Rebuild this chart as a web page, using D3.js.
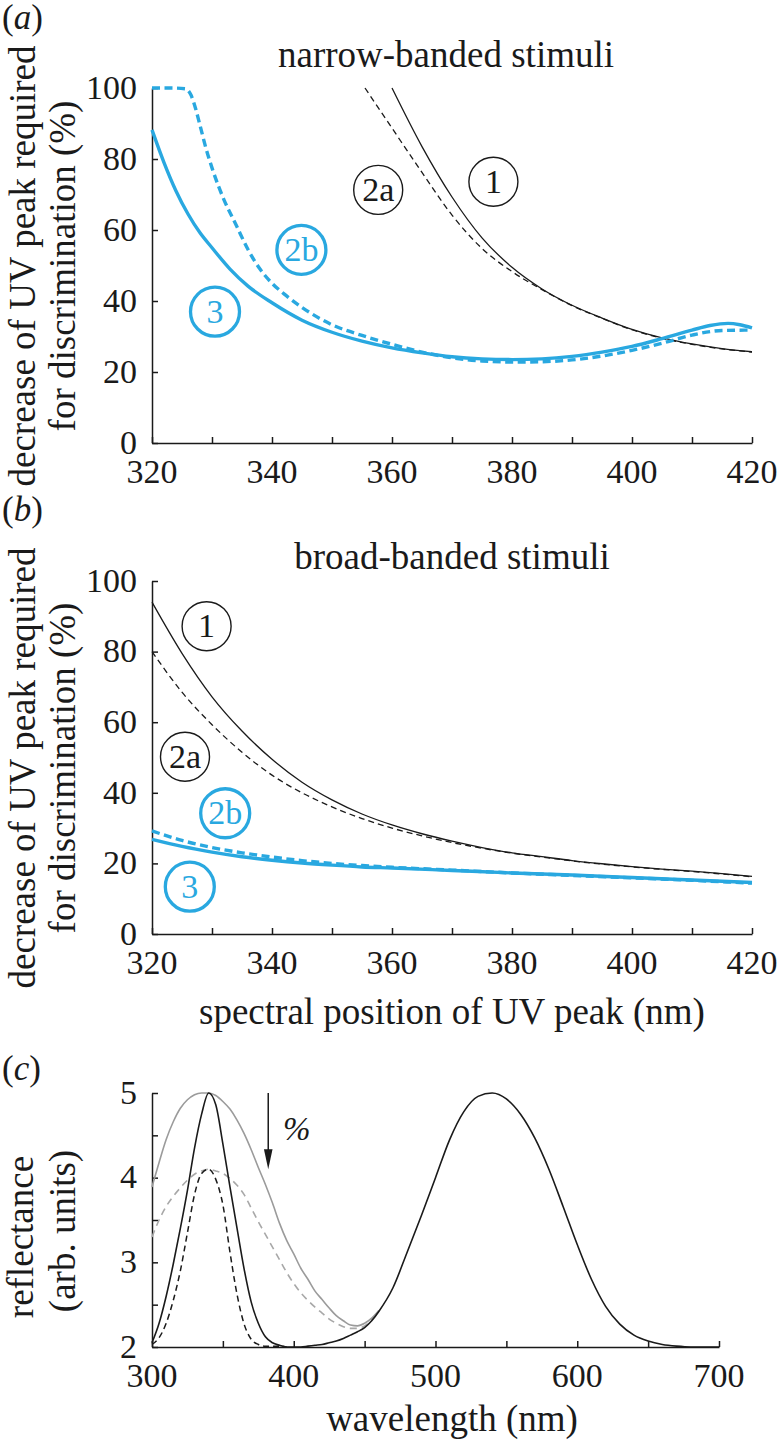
<!DOCTYPE html>
<html><head><meta charset="utf-8">
<script src="https://cdn.jsdelivr.net/npm/d3@7"></script>
</head><body style="margin:0;background:#fff">
<div id="wrap" style="position:relative;width:782px;height:1446px;overflow:hidden">
<svg id="fig" width="782" height="1446" style="position:absolute;left:0;top:0"></svg>
</div>
<script>
// ---------------- DATA ----------------
// panel (a): narrow-banded stimuli
const nmA1  = [360,365,370,375,380,385,390,395,400,405,410,415,420];
const valA1 = [100,83.5,69.3,57.8,49.5,43.4,38.8,35.2,32.0,29.6,27.9,26.6,25.7];
const nmA2a  = [355.5,360,365,370,375,380,385,390,395,400,405,410,415,420];
const valA2a = [100,88.7,76.2,64.2,54.8,48.3,43.2,38.7,35.1,31.9,29.5,27.8,26.5,25.6];
const nmA3  = [320,322,324,326,328,330,333,336,340,345,350,355,360,365,370,375,380,385,390,395,400,405,410,413,416,418,420];
const valA3 = [88.2,79,71,64.5,59.2,55,49,44.2,39.5,34.6,31.2,28.7,26.8,25.4,24.3,23.7,23.5,23.7,24.4,25.6,27.2,29.4,31.8,33.1,33.7,33.3,32.4];
const nmA2b  = [320,323,325.5,326.5,327.3,328,329,330,332,334,336,338,340,342,345,350,355,360,365,370,375,380,385,390,395,400,405,410,415,420];
const valA2b = [100,100,99.8,98,94,89.5,83,77.5,68.5,61.5,54.5,49,45,42,38.2,33.3,30.3,27.8,25.6,24,23.1,22.8,22.9,23.4,24.5,26.1,28.1,30.4,31.7,31.8];

// panel (b): broad-banded stimuli
const nmB   = [320,325,330,335,340,345,350,355,360,365,370,375,380,385,390,395,400,405,410,415,420];
const valB1  = [94,79.5,67.2,57.5,49.5,43,38,34,30.9,28.4,26.3,24.5,23,21.9,20.8,19.9,19.1,18.4,17.8,17.1,16.3];
const valB2a = [80,68.5,59.3,51.5,45,40,36,32.7,30,27.8,25.9,24.3,22.9,21.8,20.7,19.8,19,18.3,17.7,17,16.2];
const nmB3  = [320,325,330,335,340,345,350,355,360,370,380,390,400,410,420];
const valB3  = [26.8,24.8,23.2,21.9,20.9,20.1,19.5,19,18.7,18,17.3,16.7,16,15.3,14.6];
const valB2b = [29.2,26.5,24.5,23,21.8,20.8,20,19.4,18.9,18.1,17.3,16.6,15.9,15.2,14.4];

// panel (c): reflectance spectra
const wlC = [300,305,310,315,320,325,330,335,340,345,350,355,360,365,370,375,380,385,390,395,400,405,410,415,420,425,430,435,440,445,450,455,460,
             470,480,490,500,510,520,530,540,550,560,570,580,590,600,610,620,630,640,650,660,670,680,690,700];
const reflNarrow = [2.05,2.28,2.60,2.98,3.40,3.85,4.35,4.75,5.00,4.86,4.40,3.89,3.40,2.92,2.53,2.28,2.12,2.05,2.02,2.00,2.00,2.00,2.01,2.02,2.03,2.05,2.07,2.10,2.14,2.18,2.23,2.31,2.42,
             2.70,3.12,3.55,4.00,4.45,4.78,4.96,5.00,4.93,4.75,4.47,4.10,3.66,3.21,2.80,2.48,2.27,2.14,2.07,2.03,2.01,2.00,2.00,2.00];
const wlUV = [300,305,310,315,320,325,330,335,340,345,350,355,360,365,370,375,380,385,390,395,400,405,410,415,420,425,430,435,440,445,450,455,460];
const reflBroad = [3.89,4.18,4.45,4.66,4.82,4.92,4.98,5.00,5.00,4.97,4.90,4.81,4.68,4.52,4.33,4.12,3.92,3.70,3.46,3.26,3.10,2.93,2.80,2.66,2.56,2.46,2.37,2.31,2.26,2.25,2.28,2.34,2.43];
const reflBroadReduced = [3.30,3.50,3.66,3.78,3.88,3.97,4.04,4.08,4.10,4.08,4.05,3.99,3.91,3.80,3.64,3.48,3.33,3.18,3.03,2.88,2.75,2.64,2.55,2.47,2.40,2.33,2.28,2.24,2.22,2.22,2.25,2.32,2.42];
const wlNarrowReduced = [300,305,310,315,320,325,330,335,340,345,350,355,360,365,370,375,380,385,390,395];
const reflNarrowReduced = [2.03,2.11,2.28,2.55,2.90,3.35,3.80,4.05,4.10,3.98,3.68,3.12,2.62,2.27,2.09,2.03,2.01,2.01,2.01,2.00];
const arrowWl = 382, arrowFrom = 5.0, arrowTo = 4.1;

// tick values and tick labels
const xTicksAB = [320,330,340,350,360,370,380,390,400,410,420];
const xLabelsAB = [320,340,360,380,400,420];
const yTicksAB = [0,20,40,60,80,100];
const xTicksC = [300,350,400,450,500,550,600,650,700];
const xLabelsC = [300,400,500,600,700];
const yTicksC = [2,2.5,3,3.5,4,4.5,5];
const yLabelsC = [2,3,4,5];

// ---------------- DRAWING ----------------
const FONT = '"Liberation Serif", "Times New Roman", serif';
const INK = "#1a1a1a", BLUE = "#29a8e0", GREY = "#9b9b9b";
const svg = d3.select("#fig");
const wrap = d3.select("#wrap");

const xA = d3.scaleLinear([320,420],[152,752]);
const yA = d3.scaleLinear([0,100],[443,88]);
const yB = d3.scaleLinear([0,100],[934,581]);
const xC = d3.scaleLinear([300,700],[152,719]);
const yC = d3.scaleLinear([2,5],[1347,1093]);

// text placed with its baseline at (x, y)
function label(x, y, s, size, opts = {}) {
  const outer = wrap.append("div")
    .style("position", "absolute").style("left", x + "px").style("top", y + "px")
    .style("width", "0px").style("height", "0px");
  if (opts.rot) outer.style("transform", "rotate(-90deg)").style("transform-origin", "0 0");
  const shift = opts.anchor === "end" ? "-100%" : opts.anchor === "start" ? "0" : "-50%";
  const inner = outer.append("div")
    .style("position", "absolute").style("left", "0px")
    .style("top", (-0.891 * size) + "px")
    .style("font-family", FONT).style("font-size", size + "px")
    .style("line-height", (1.107 * size) + "px")
    .style("white-space", "nowrap").style("color", opts.color || INK)
    .style("font-style", opts.italic ? "italic" : "normal")
    .style("transform", `translateX(${shift})`);
  if (opts.html) inner.html(s); else inner.text(s);
  return inner;
}

function drawAxes(x, y, xt, xl, yt, yl) {
  const gx = svg.append("g").attr("transform", `translate(0,${y.range()[0]})`)
    .call(d3.axisBottom(x).tickValues(xt).tickFormat("").tickSizeInner(-6).tickSizeOuter(0));
  const gy = svg.append("g").attr("transform", `translate(${x.range()[0]},0)`)
    .call(d3.axisLeft(y).tickValues(yt).tickFormat("").tickSizeInner(-6).tickSizeOuter(0));
  [gx, gy].forEach(g => {
    g.selectAll("text").remove();
    g.selectAll("path,line").attr("stroke", INK).attr("stroke-width", 1.5);
  });
  xl.forEach(v => label(x(v), y.range()[0] + 40, String(v), 34));
  yl.forEach(v => label(x.range()[0] - 15, y(v) + 11, String(v), 34, { anchor: "end" }));
}

function curve(x, y, xs, ys, color, width, dash) {
  const pts = xs.map((v, i) => [v, ys[i]]);
  const line = d3.line().x(d => x(d[0])).y(d => y(d[1])).curve(d3.curveMonotoneX);
  svg.append("path").attr("d", line(pts)).attr("fill", "none")
    .attr("stroke", color).attr("stroke-width", width)
    .attr("stroke-dasharray", dash || null).attr("stroke-linejoin", "round");
}

function circled(x, y, nm, v, s, color, sw) {
  const cx = x(nm), cy = y(v);
  svg.append("circle").attr("cx", cx).attr("cy", cy).attr("r", 24.5)
    .attr("fill", "none").attr("stroke", color).attr("stroke-width", sw);
  label(cx, cy + 11.5, s, 34, { color });
}

// ----- panel a -----
drawAxes(xA, yA, xTicksAB, xLabelsAB, yTicksAB, yTicksAB);
curve(xA, yA, nmA2a, valA2a, INK, 1.3, "6,4");
curve(xA, yA, nmA1, valA1, INK, 1.3);
curve(xA, yA, nmA2b, valA2b, BLUE, 3.4, "8,4.5");
curve(xA, yA, nmA3, valA3, BLUE, 3.4);
circled(xA, yA, 376.9, 73.6, "1", INK, 1.4);
circled(xA, yA, 357.7, 71.3, "2a", INK, 1.4);
circled(xA, yA, 344.9, 54.4, "2b", BLUE, 3.3);
circled(xA, yA, 330.5, 37.0, "3", BLUE, 3.3);
label(446, 68, "narrow-banded stimuli", 37);
label(36, 266, "decrease of UV peak required", 37, { rot: true });
label(76, 266, "for discrimination (%)", 37, { rot: true });
label(2, 30, "(<i>a</i>)", 35, { anchor: "start", html: true });

// ----- panel b -----
drawAxes(xA, yB, xTicksAB, xLabelsAB, yTicksAB, yTicksAB);
curve(xA, yB, nmB, valB2a, INK, 1.3, "6,4");
curve(xA, yB, nmB, valB1, INK, 1.3);
curve(xA, yB, nmB3, valB2b, BLUE, 3.4, "8,4.5");
curve(xA, yB, nmB3, valB3, BLUE, 3.4);
circled(xA, yB, 329.1, 87.2, "1", INK, 1.4);
circled(xA, yB, 325.5, 50.2, "2a", INK, 1.4);
circled(xA, yB, 332.2, 34.2, "2b", BLUE, 3.3);
circled(xA, yB, 326.3, 13.4, "3", BLUE, 3.3);
label(452, 570, "broad-banded stimuli", 37);
label(36, 768, "decrease of UV peak required", 37, { rot: true });
label(76, 768, "for discrimination (%)", 37, { rot: true });
label(452, 1025, "spectral position of UV peak (nm)", 37);
label(2, 522, "(<i>b</i>)", 35, { anchor: "start", html: true });

// ----- panel c -----
drawAxes(xC, yC, xTicksC, xLabelsC, yTicksC, yLabelsC);
curve(xC, yC, wlUV, reflBroadReduced, "#a8a8a8", 1.6, "7,5");
curve(xC, yC, wlUV, reflBroad, GREY, 1.6);
curve(xC, yC, wlNarrowReduced, reflNarrowReduced, INK, 1.5, "6,4");
curve(xC, yC, wlC, reflNarrow, INK, 1.6);
const ax = xC(arrowWl), ay0 = yC(arrowFrom), ay1 = yC(arrowTo);
svg.append("line").attr("x1", ax).attr("x2", ax).attr("y1", ay0).attr("y2", ay1 - 16)
  .attr("stroke", INK).attr("stroke-width", 1.5);
svg.append("path").attr("d", `M${ax},${ay1} L${ax - 4.3},${ay1 - 20} L${ax + 4.3},${ay1 - 20} Z`).attr("fill", INK);
label(283, 1140, "%", 33, { anchor: "start", italic: true });
label(34, 1237, "reflectance", 37, { rot: true });
label(76, 1231, "(arb. units)", 37, { rot: true });
label(452, 1432, "wavelength (nm)", 37);
label(2, 1081, "(<i>c</i>)", 35, { anchor: "start", html: true });
</script>
</body></html>
